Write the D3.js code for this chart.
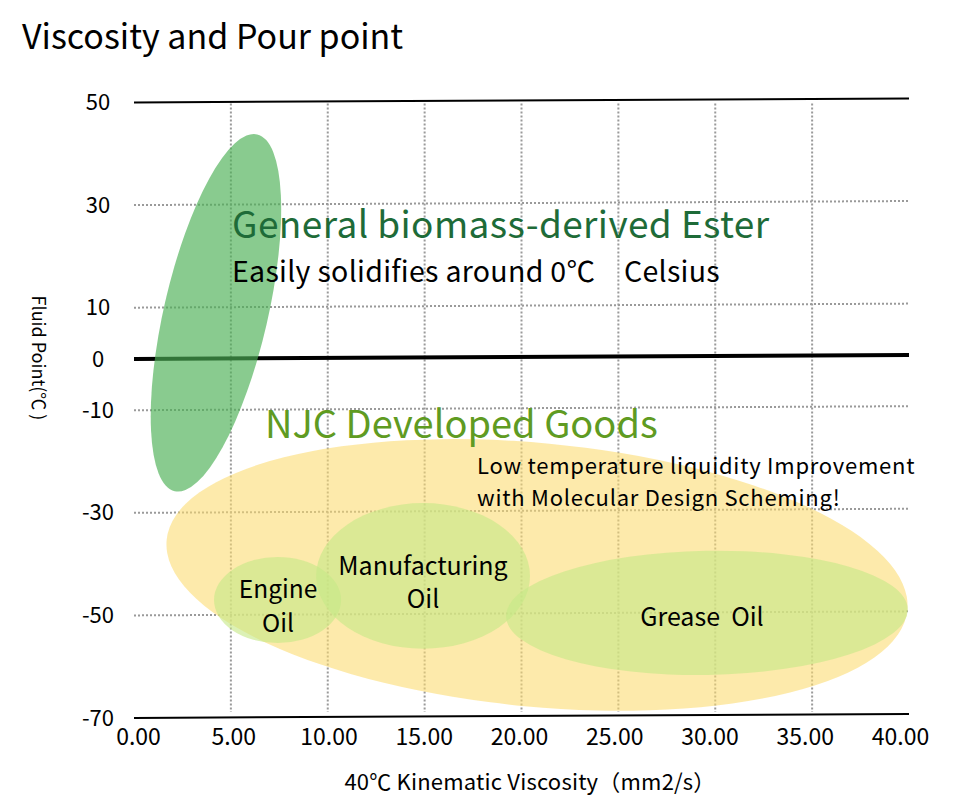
<!DOCTYPE html>
<html>
<head>
<meta charset="utf-8">
<script src="https://cdn.jsdelivr.net/npm/d3@7"></script>
<style>
  body { margin: 0; background: #fff; }
  text { font-family: "Noto Sans CJK JP", "Noto Sans", sans-serif; }
</style>
</head>
<body>
<svg id="chart"></svg>
<script>
// Axis ticks
const xTicks = [0, 5, 10, 15, 20, 25, 30, 35, 40];
const yTicks = [50, 30, 10, 0, -10, -30, -50, -70];
const xGrid = [5, 10, 15, 20, 25, 30, 35];
const yGrid = [30, 10, -10, -30, -50];

// Regions: centre (viscosity, pour point), half widths in the same units, tilt in degrees
const regionNames = ['NJC Developed Goods', 'General biomass-derived Ester', 'Engine Oil', 'Manufacturing Oil', 'Grease Oil'];
const regionCx = [20.8, 4.23, 7.41, 14.92, 29.57];
const regionCy = [-42.1, 9.0, -47.0, -42.3, -49.5];
const regionRx = [19.2, 2.68, 3.28, 5.52, 10.37];
const regionRy = [25.7, 35.7, 8.38, 14.2, 12.1];
const regionTilt = [5.4, 13, 0, 0, -1];

const width = 954;
const height = 809;

let svg = d3.select('#chart')
    .attr('width', width)
    .attr('height', height);

// scales
let x = d3.scaleLinear().domain([0, 40]).range([134, 909]);
let y = d3.scaleLinear().domain([-70, 50]).range([718, 102.5]);
let xLab = x.copy().range([138, 900]);

// title
svg.append('text')
    .attr('x', 22).attr('y', 49)
    .attr('font-size', 34)
    .text('Viscosity and Pour point');

// dotted grid
let grid = svg.append('g')
    .attr('stroke', '#9a9a9a')
    .attr('stroke-width', 2)
    .attr('stroke-dasharray', '2,2');

grid.selectAll('.vg').data(xGrid).join('line')
    .attr('x1', d => x(d)).attr('x2', d => x(d))
    .attr('y1', y(50) + 1).attr('y2', y(-70) - 6);

// horizontal lines lean a little in the original
let tilt = svg.append('g')
    .attr('transform', 'translate(134,0) skewY(-0.3) translate(-134,0)');

tilt.selectAll('.hg').data(yGrid).join('line')
    .attr('stroke', '#9a9a9a')
    .attr('stroke-width', 2)
    .attr('stroke-dasharray', '2,2')
    .attr('x1', x(0)).attr('x2', x(40))
    .attr('y1', d => y(d)).attr('y2', d => y(d));

tilt.selectAll('.edge').data([50, -70]).join('line')
    .attr('stroke', '#000')
    .attr('stroke-width', 2)
    .attr('x1', x(0)).attr('x2', x(40))
    .attr('y1', d => y(d)).attr('y2', d => y(d));

tilt.append('line')
    .attr('stroke', '#000')
    .attr('stroke-width', 4)
    .attr('x1', x(0)).attr('x2', x(40))
    .attr('y1', y(0)).attr('y2', y(0));

// regions
const fills = ['rgba(252,218,110,0.58)', 'rgba(76,176,85,0.66)', 'rgba(198,232,135,0.62)', 'rgba(198,232,135,0.62)', 'rgba(198,232,135,0.62)'];
let regions = regionNames.map((name, i) => ({
    name: name, cx: regionCx[i], cy: regionCy[i], rx: regionRx[i], ry: regionRy[i], tilt: regionTilt[i]
}));

svg.append('g').selectAll('ellipse').data(regions).join('ellipse')
    .attr('transform', d => 'translate(' + x(d.cx) + ',' + y(d.cy) + ') rotate(' + d.tilt + ')')
    .attr('rx', d => x(d.rx) - x(0))
    .attr('ry', d => y(0) - y(d.ry))
    .attr('fill', (d, i) => fills[i]);

// annotations
function label(txt, px, py, size, color, anchor, spacing) {
    svg.append('text')
        .attr('x', px).attr('y', py)
        .attr('font-size', size)
        .attr('fill', color || '#000')
        .attr('text-anchor', anchor || 'start')
        .attr('letter-spacing', spacing || 0)
        .text(txt);
}
label('General biomass-derived Ester', 232, 238, 37, '#1e6b38', 'start', 0.4);
label('Easily solidifies around 0\u2103\u3000Celsius', 232, 282, 28.5, '#000', 'start', 0.3);
label('NJC Developed Goods', 265, 438, 38, '#5f9b22');
label('Low temperature liquidity Improvement', 477, 474, 22, '#000', 'start', 0.75);
label('with Molecular Design Scheming!', 477, 506, 22, '#000', 'start', 0.75);
label('Engine', 278, 598, 24.5, '#000', 'middle');
label('Oil', 278, 632, 24.5, '#000', 'middle');
label('Manufacturing', 423, 575, 25, '#000', 'middle');
label('Oil', 423, 608, 25, '#000', 'middle');
label('Grease\u00a0 Oil', 702, 626, 25, '#000', 'middle');

// axes
let xAxis = svg.append('g')
    .attr('transform', 'translate(0,' + 726 + ')')
    .call(d3.axisBottom(xLab).tickValues(xTicks).tickSize(0).tickFormat(d3.format('.2f')));
xAxis.select('.domain').remove();
xAxis.selectAll('text')
    .attr('font-size', 23)
    .attr('font-family', '"Noto Sans CJK JP", sans-serif')
    .attr('fill', '#000');

let yAxis = svg.append('g')
    .attr('transform', 'translate(98,0)')
    .call(d3.axisLeft(y).tickValues(yTicks).tickSize(0).tickFormat(d => String(d)));
yAxis.select('.domain').remove();
yAxis.selectAll('text')
    .attr('x', 0)
    .attr('text-anchor', 'middle')
    .attr('font-size', 22)
    .attr('font-family', '"Noto Sans CJK JP", sans-serif')
    .attr('fill', '#000');

// axis titles
svg.append('text')
    .attr('x', 530).attr('y', 790)
    .attr('text-anchor', 'middle')
    .attr('font-size', 22)
    .attr('letter-spacing', 0.2)
    .text('40\u2103 Kinematic Viscosity\uff08mm2/s\uff09');

svg.append('text')
    .attr('transform', 'translate(32,358) rotate(90)')
    .attr('text-anchor', 'middle')
    .attr('font-size', 18)
    .text('Fluid Point(\u2103 )');
</script>
</body>
</html>
